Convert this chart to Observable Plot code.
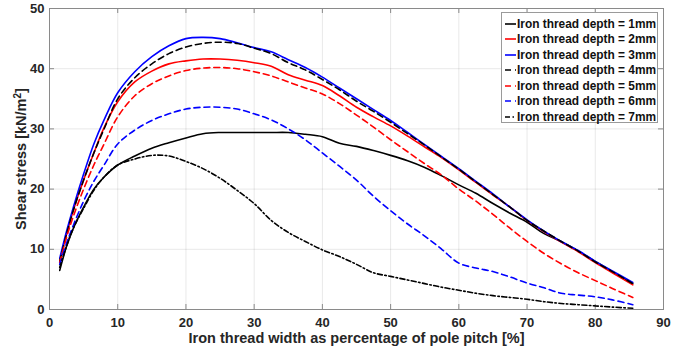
<!DOCTYPE html>
<html>
<head>
<meta charset="utf-8">
<script src="https://cdn.jsdelivr.net/npm/d3@7"></script>
<script src="https://cdn.jsdelivr.net/npm/@observablehq/plot@0.6"></script>
<style>
  body { margin: 0; background: #fff; }
  #wrap { position: relative; width: 689px; height: 351px; }
  #legend { position: absolute; left: 501px; top: 12px; width: 157px; height: 111px;
    border: 1px solid #9a9a9a; background: #fff; box-sizing: border-box;
    font-family: "Liberation Sans", Arial, sans-serif; font-weight: bold; font-size: 11.9px; color: #111; }
  .row { position: absolute; left: 0; height: 15px; display: flex; align-items: center; white-space: nowrap; }
  .row svg { margin-left: 3px; margin-right: 1px; }
</style>
</head>
<body>
<div id="wrap"><div id="chart"></div><div id="legend"></div></div>
<script>
const xs = [1.5, 2.5, 3.5, 5, 6.5, 8, 10, 12.5, 15, 17.5, 20, 22.5, 25, 27.5, 30, 32.5, 35, 37.5, 40, 42.5, 45, 47.5, 50, 52.5, 55, 57.5, 60, 62.5, 65, 67.5, 70, 72.5, 75, 77.5, 80, 82.5, 85.5];

const depth1 = [6.5, 10.5, 13.5, 17, 20, 22, 24, 25.5, 26.8, 27.7, 28.5, 29.2, 29.4, 29.4, 29.4, 29.4, 29.4, 29.1, 28.7, 27.6, 27.1, 26.4, 25.6, 24.7, 23.6, 22.2, 20.7, 19.3, 17.6, 16, 14.5, 12.6, 11.3, 9.7, 8, 6.3, 4.3];
const depth2 = [8, 12.5, 16.5, 21.5, 26, 30.2, 34.5, 37.8, 39.6, 40.8, 41.3, 41.6, 41.6, 41.4, 41, 40.4, 39, 38.1, 37.2, 35.5, 33.6, 32, 30.5, 28.8, 27, 25.2, 23.2, 21.1, 19, 17, 14.8, 12.9, 11.2, 9.6, 7.8, 6.1, 4.1];
const depth3 = [8.5, 13, 17, 22.5, 27.5, 31.5, 36, 39.5, 42, 43.8, 45, 45.2, 45, 44.3, 43.5, 42.8, 41.5, 40.2, 38.6, 36.8, 35, 33.2, 31.4, 29.4, 27.4, 25.4, 23.4, 21.3, 19.2, 17, 14.9, 13, 11.3, 9.8, 8, 6.4, 4.5];
const depth4 = [8, 12.5, 16.5, 21.5, 26, 30, 35, 38.5, 40.8, 42.5, 43.6, 44.2, 44.4, 44.2, 43.4, 42.5, 41, 39.8, 38.2, 36.5, 34.6, 32.9, 31.1, 29.2, 27.3, 25.3, 23.3, 21.2, 19.1, 17, 14.8, 13, 11.3, 9.7, 7.9, 6.3, 4.3];
const depth5 = [7.8, 12, 15.5, 20, 24, 27.5, 32, 35.5, 37.5, 38.8, 39.7, 40.1, 40.2, 40, 39.5, 38.8, 37.8, 36.8, 35.8, 34.2, 32.3, 30.3, 28.2, 26.2, 24.2, 22.3, 20, 18, 15.8, 13.5, 11.3, 9.3, 7.6, 6.1, 4.8, 3.5, 2.0];
const depth6 = [7.5, 11, 14, 18, 21.3, 24, 27.5, 29.8, 31.4, 32.5, 33.3, 33.6, 33.6, 33.3, 32.5, 31.5, 30, 28.2, 26, 23.8, 21.5, 18.8, 16.4, 14.2, 12.2, 10, 7.7, 6.9, 6.3, 5.4, 4.4, 3.6, 2.7, 2.4, 2.1, 1.6, 0.8];
const depth7 = [7, 10.5, 13.5, 16.8, 19.8, 22, 24, 25, 25.6, 25.5, 24.6, 23.4, 21.8, 19.8, 17.6, 14.8, 12.8, 11.3, 9.9, 8.8, 7.5, 6.1, 5.5, 4.9, 4.3, 3.7, 3.2, 2.7, 2.3, 2.0, 1.7, 1.3, 1.0, 0.8, 0.6, 0.4, 0.2];

const seriesNames = ["Iron thread depth = 1mm", "Iron thread depth = 2mm", "Iron thread depth = 3mm", "Iron thread depth = 4mm", "Iron thread depth = 5mm", "Iron thread depth = 6mm", "Iron thread depth = 7mm"];
const seriesValues = [depth1, depth2, depth3, depth4, depth5, depth6, depth7];
const seriesColors = ["#000000", "#ff0000", "#0000ff", "#000000", "#ff0000", "#0000ff", "#000000"];
const seriesDash = [null, null, null, "6,4", "6,4", "6,4", "5,2.5,1.5,2.5"];

const xTicks = [0, 10, 20, 30, 40, 50, 60, 70, 80, 90];
const yTicks = [0, 10, 20, 30, 40, 50];

const rows = [];
seriesValues.forEach((vals, s) => vals.forEach((v, i) => rows.push({x: xs[i], y: v, s})));

const lineMarks = seriesNames.map((name, s) =>
  Plot.line(rows.filter(r => r.s === s), {
    x: "x", y: "y", stroke: seriesColors[s], strokeWidth: 1.6,
    strokeDasharray: seriesDash[s] || undefined, curve: "catmull-rom"
  })
);

const chart = Plot.plot({
  width: 689, height: 351,
  marginLeft: 49, marginRight: 26, marginTop: 8, marginBottom: 42,
  x: {domain: [0, 90]},
  y: {domain: [0, 50]},
  style: {fontFamily: "'Liberation Sans', Arial, sans-serif", fontWeight: "bold", fontSize: "13px", color: "#262626", background: "#fff"},
  marks: [
    Plot.gridX(xTicks.slice(1, -1), {stroke: "#000", strokeOpacity: 0.09}),
    Plot.gridY(yTicks.slice(1, -1), {stroke: "#000", strokeOpacity: 0.09}),
    Plot.ruleX(xTicks.slice(1, -1), {y1: 0, y2: 0, insetBottom: 5, stroke: "#8a8a8a"}),
    Plot.ruleX(xTicks.slice(1, -1), {y1: 50, y2: 50, insetTop: 5, stroke: "#8a8a8a"}),
    Plot.ruleY(yTicks.slice(1, -1), {x1: 0, x2: 0, insetRight: -5, stroke: "#8a8a8a"}),
    Plot.ruleY(yTicks.slice(1, -1), {x1: 90, x2: 90, insetLeft: -5, stroke: "#8a8a8a"}),
    Plot.frame({stroke: "#8a8a8a"}),
    Plot.axisX(xTicks, {tickSize: 0, tickPadding: 8, label: null}),
    Plot.axisX({ticks: [], label: "Iron thread width as percentage of pole pitch [%]", labelAnchor: "center", labelArrow: "none", labelOffset: 33, fontSize: 14.5}),
    Plot.axisY(yTicks, {tickSize: 0, tickPadding: 5, label: null}),
    Plot.axisY({ticks: [], label: "Shear stress [kN/m2]", labelAnchor: "center", labelArrow: "none", labelOffset: 34, fontSize: 14.5}),
    ...lineMarks
  ]
});
document.getElementById("chart").appendChild(chart);

// superscript for the unit label
chart.querySelectorAll("text").forEach(t => {
  if (t.textContent === "Shear stress [kN/m2]") {
    t.textContent = "";
    const ns = "http://www.w3.org/2000/svg";
    const a = document.createElementNS(ns, "tspan"); a.textContent = "Shear stress [kN/m";
    const b = document.createElementNS(ns, "tspan"); b.textContent = "2"; b.setAttribute("font-size", "10"); b.setAttribute("baseline-shift", "super");
    const c = document.createElementNS(ns, "tspan"); c.textContent = "]";
    t.append(a, b, c);
  }
});

const legend = document.getElementById("legend");
seriesNames.forEach((name, s) => {
  const row = document.createElement("div");
  row.className = "row";
  row.style.top = (3 + s * 15.55) + "px";
  const dash = seriesDash[s] ? `stroke-dasharray="${seriesDash[s]}"` : "";
  row.innerHTML = `<svg width="11" height="10"><line x1="0" y1="5" x2="11" y2="5" stroke="${seriesColors[s]}" stroke-width="1.6" ${dash}/></svg><span>${name}</span>`;
  legend.appendChild(row);
});
</script>
</body>
</html>
